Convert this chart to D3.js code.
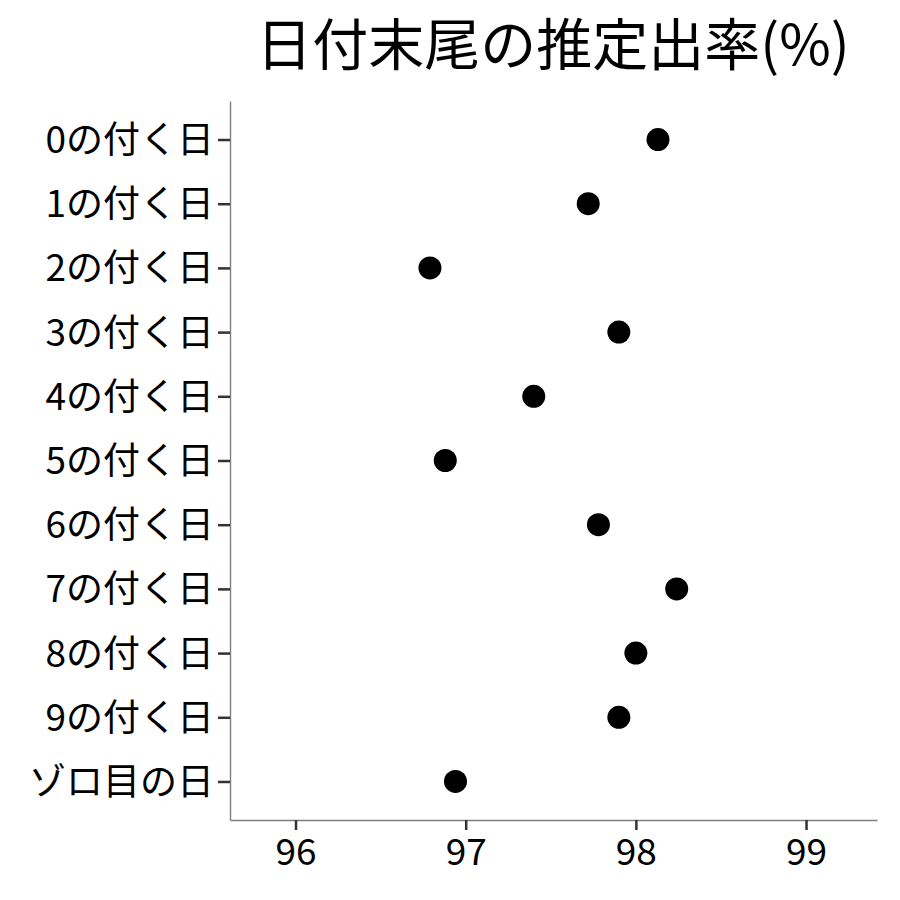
<html>
<head>
<meta charset="utf-8">
<script src="https://d3js.org/d3.v7.min.js"></script>
<style>
  body { margin: 0; background: #fff; }
  text { font-family: "Noto Sans CJK JP", "Noto Sans", sans-serif; }
</style>
</head>
<body>
<svg class="chart" width="900" height="900"></svg>
<script>

let categories = ["0の付く日", "1の付く日", "2の付く日", "3の付く日", "4の付く日", "5の付く日",
                  "6の付く日", "7の付く日", "8の付く日", "9の付く日", "ゾロ目の日"];
let rates = [98.13, 97.72, 96.79, 97.90, 97.40, 96.88, 97.78, 98.24, 98.00, 97.90, 96.94];
let xTicks = [96, 97, 98, 99];
let title = "日付末尾の推定出率(%)";

const svg = d3.select('.chart');

const plotLeft = 230, plotRight = 877, plotTop = 101, plotBottom = 820;

let x = d3.scaleLinear()
    .domain([95.615, 99.417])
    .range([plotLeft, plotRight]);

let y = d3.scalePoint()
    .domain(categories)
    .range([plotTop, plotBottom])
    .padding(0.6);

// title
svg.append("text")
    .attr("x", 553)
    .attr("y", 65)
    .attr("text-anchor", "middle")
    .attr("font-size", 56)
    .attr("fill", "#000")
    .text(title);

// x axis
const xAxis = svg.append("g")
    .attr("transform", `translate(0,${plotBottom})`)
    .call(d3.axisBottom(x).tickValues(xTicks).tickFormat(d3.format("d"))
      .tickSize(10).tickPadding(5).tickSizeOuter(0));

// y axis
const yAxis = svg.append("g")
    .attr("transform", `translate(${plotLeft},0)`)
    .call(d3.axisLeft(y).tickSize(12).tickPadding(4).tickSizeOuter(0));

[xAxis, yAxis].forEach(g => {
  g.select(".domain").attr("stroke", "#7f7f7f").attr("stroke-width", 1.4);
  g.selectAll(".tick line").attr("stroke", "#333").attr("stroke-width", 2.5);
  g.selectAll(".tick text")
      .attr("font-size", 37)
      .attr("fill", "#000")
      .style("font-family", '"Noto Sans CJK JP", sans-serif');
});
yAxis.selectAll(".tick text").attr("dy", "0.35em");
xAxis.selectAll(".tick text").attr("dy", "0.82em");

// points
svg.append("g")
  .selectAll("circle")
  .data(categories)
  .enter()
  .append("circle")
    .attr("cx", (d, i) => x(rates[i]))
    .attr("cy", d => y(d))
    .attr("r", 11.5)
    .attr("fill", "#000");

</script>
</body>
</html>
